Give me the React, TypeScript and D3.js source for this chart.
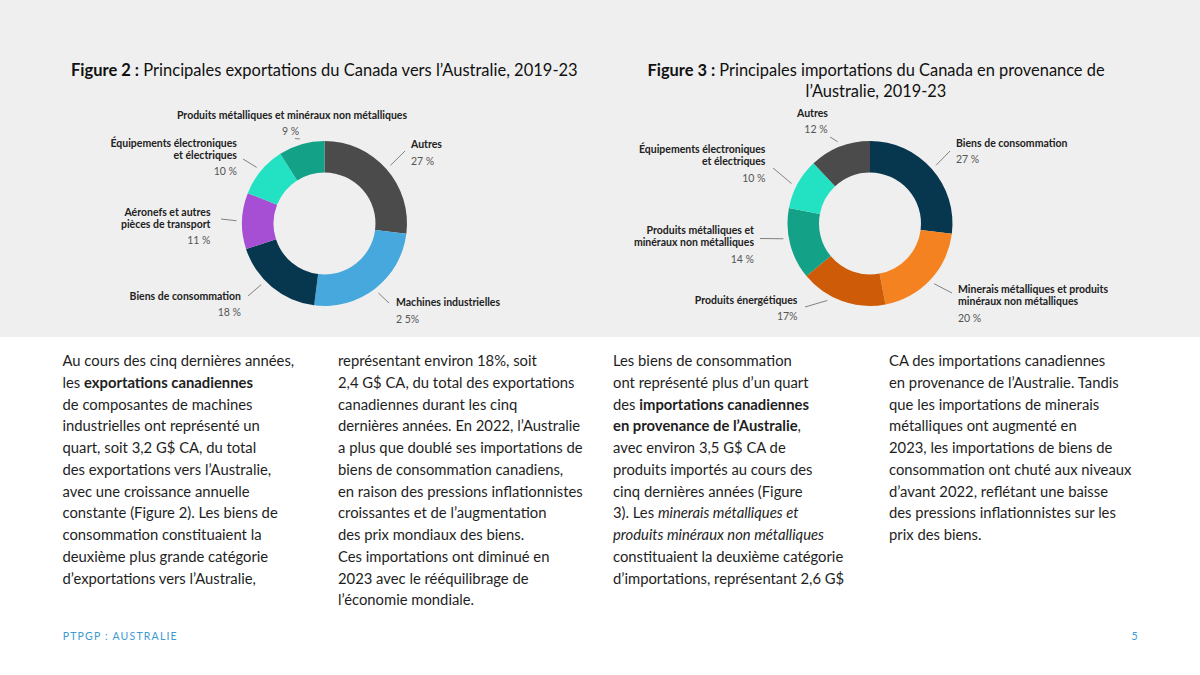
import React from "react";
import * as d3 from "d3";

// ---------- DATA ----------
const exportCategories = [
  "Autres",
  "Machines industrielles",
  "Biens de consommation",
  "Aéronefs et autres pièces de transport",
  "Équipements électroniques et électriques",
  "Produits métalliques et minéraux non métalliques",
];
const exportValues = [27, 25, 18, 11, 10, 9];
const exportPctLabels = ["27 %", "2 5%", "18 %", "11 %", "10 %", "9 %"];
const exportLabelLines = [
  ["Autres"],
  ["Machines industrielles"],
  ["Biens de consommation"],
  ["Aéronefs et autres", "pièces de transport"],
  ["Équipements électroniques", "et électriques"],
  ["Produits métalliques et minéraux non métalliques"],
];

const importCategories = [
  "Biens de consommation",
  "Minerais métalliques et produits minéraux non métalliques",
  "Produits énergétiques",
  "Produits métalliques et minéraux non métalliques",
  "Équipements électroniques et électriques",
  "Autres",
];
const importValues = [27, 20, 17, 14, 10, 12];
const importPctLabels = ["27 %", "20 %", "17%", "14 %", "10 %", "12 %"];
const importLabelLines = [
  ["Biens de consommation"],
  ["Minerais métalliques et produits", "minéraux non métalliques"],
  ["Produits énergétiques"],
  ["Produits métalliques et", "minéraux non métalliques"],
  ["Équipements électroniques", "et électriques"],
  ["Autres"],
];

const exportTitle = ["**Figure 2 :** Principales exportations du Canada vers l’Australie, 2019-23"];
const importTitle = [
  "**Figure 3 :** Principales importations du Canada en provenance de",
  "l’Australie, 2019-23",
];

const bodyCol1 = [
  "Au cours des cinq dernières années,",
  "les **exportations canadiennes**",
  "de composantes de machines",
  "industrielles ont représenté un",
  "quart, soit 3,2 G$ CA, du total",
  "des exportations vers l’Australie,",
  "avec une croissance annuelle",
  "constante (Figure 2). Les biens de",
  "consommation constituaient la",
  "deuxième plus grande catégorie",
  "d’exportations vers l’Australie,",
];
const bodyCol2 = [
  "représentant environ 18%, soit",
  "2,4 G$ CA, du total des exportations",
  "canadiennes durant les cinq",
  "dernières années. En 2022, l’Australie",
  "a plus que doublé ses importations de",
  "biens de consommation canadiens,",
  "en raison des pressions inflationnistes",
  "croissantes et de l’augmentation",
  "des prix mondiaux des biens.",
  "Ces importations ont diminué en",
  "2023 avec le rééquilibrage de",
  "l’économie mondiale.",
];
const bodyCol3 = [
  "Les biens de consommation",
  "ont représenté plus d’un quart",
  "des **importations canadiennes**",
  "**en provenance de l’Australie**,",
  "avec environ 3,5 G$ CA de",
  "produits importés au cours des",
  "cinq dernières années (Figure",
  "3). Les _minerais métalliques et_",
  "_produits minéraux non métalliques_",
  "constituaient la deuxième catégorie",
  "d’importations, représentant 2,6 G$",
];
const bodyCol4 = [
  "CA des importations canadiennes",
  "en provenance de l’Australie. Tandis",
  "que les importations de minerais",
  "métalliques ont augmenté en",
  "2023, les importations de biens de",
  "consommation ont chuté aux niveaux",
  "d’avant 2022, reflétant une baisse",
  "des pressions inflationnistes sur les",
  "prix des biens.",
];

const footerLeft = "PTPGP : AUSTRALIE";
const footerRight = "5";

// ---------- STYLE / LAYOUT ----------
const FONT = "Lato, 'Open Sans', sans-serif";
const exportColors = ["#4b4b4b", "#46a8dc", "#06374f", "#a64fd4", "#22e2c3", "#13a287"];
const importColors = ["#06374f", "#f58220", "#cd5b07", "#13a287", "#22e2c3", "#4b4b4b"];

type LabelLayout = {
  x: number;
  y: number;
  anchor: "start" | "end" | "middle";
  pctX?: number;
  pctGap: number;
  leaderEnd: [number, number];
  leaderAngle?: number;
};

const exportLayout: LabelLayout[] = [
  { x: 411, y: 148, anchor: "start", pctGap: 16.5, leaderEnd: [405, 151] },
  { x: 396, y: 306, anchor: "start", pctGap: 16.5, leaderEnd: [389, 303] },
  { x: 241, y: 299.5, anchor: "end", pctGap: 16.5, leaderEnd: [248, 296], leaderAngle: 226 },
  { x: 210.5, y: 215.5, anchor: "end", pctGap: 16, leaderEnd: [221, 219] },
  { x: 237, y: 146.5, anchor: "end", pctGap: 16, leaderEnd: [243, 159] },
  { x: 292, y: 119, anchor: "middle", pctX: 290.5, pctGap: 16, leaderEnd: [295, 138.5] },
];
const importLayout: LabelLayout[] = [
  { x: 956, y: 146.5, anchor: "start", pctGap: 16.5, leaderEnd: [950, 151] },
  { x: 958, y: 293, anchor: "start", pctGap: 16.5, leaderEnd: [952, 293] },
  { x: 797.5, y: 303.5, anchor: "end", pctGap: 16, leaderEnd: [805, 307], leaderAngle: 209 },
  { x: 754, y: 234, anchor: "end", pctGap: 16.5, leaderEnd: [760, 238.5], leaderAngle: 260 },
  { x: 765.5, y: 153, anchor: "end", pctGap: 16.5, leaderEnd: [773, 168], leaderAngle: 297 },
  { x: 812.5, y: 116.5, anchor: "middle", pctX: 816, pctGap: 16.5, leaderEnd: [830, 137] },
];

const OUTER = 82.5;
const INNER = 51;

function RichLine({ text, x, y, size, weight, anchor, fill }: any) {
  // parse **bold** and _italic_
  const parts: { t: string; b: boolean; i: boolean }[] = [];
  const re = /(\*\*[^*]+\*\*|_[^_]+_)/g;
  let last = 0;
  let m: RegExpExecArray | null;
  while ((m = re.exec(text)) !== null) {
    if (m.index > last) parts.push({ t: text.slice(last, m.index), b: false, i: false });
    const s = m[0];
    if (s.startsWith("**")) parts.push({ t: s.slice(2, -2), b: true, i: false });
    else parts.push({ t: s.slice(1, -1), b: false, i: true });
    last = m.index + s.length;
  }
  if (last < text.length) parts.push({ t: text.slice(last), b: false, i: false });
  return (
    <text x={x} y={y} fontSize={size} fontFamily={FONT} textAnchor={anchor || "start"} fill={fill} style={{ whiteSpace: "pre" }}>
      {parts.map((p, k) => (
        <tspan key={k} fontWeight={p.b ? 700 : weight || 400} fontStyle={p.i ? "italic" : "normal"}>
          {p.t}
        </tspan>
      ))}
    </text>
  );
}

function Donut({ cx, cy, values, colors, labelLines, pctLabels, layout }: any) {
  const pie = d3.pie<number>().sort(null).value((d) => d).startAngle(0).endAngle(2 * Math.PI);
  const arcs = pie(values);
  const arcGen = d3.arc<d3.PieArcDatum<number>>().innerRadius(INNER).outerRadius(OUTER);
  const pt = (angleRad: number, r: number): [number, number] => [
    cx + r * Math.sin(angleRad),
    cy - r * Math.cos(angleRad),
  ];
  return (
    <g>
      <g transform={`translate(${cx},${cy})`}>
        {arcs.map((a, i) => (
          <path key={i} d={arcGen(a) || ""} fill={colors[i]} />
        ))}
      </g>
      {arcs.map((a, i) => {
        const L: LabelLayout = layout[i];
        const ang = L.leaderAngle !== undefined ? (L.leaderAngle * Math.PI) / 180 : (a.startAngle + a.endAngle) / 2;
        const [sx, sy] = pt(ang, 88);
        const lines: string[] = labelLines[i];
        const lastY = L.y + (lines.length - 1) * 12;
        return (
          <g key={"l" + i}>
            <line x1={sx} y1={sy} x2={L.leaderEnd[0]} y2={L.leaderEnd[1]} stroke="#666" strokeWidth={0.8} />
            {lines.map((ln, k) => (
              <text
                key={k}
                x={L.x}
                y={L.y + k * 12}
                fontSize={10.5}
                fontWeight={700}
                fontFamily={FONT}
                textAnchor={L.anchor}
                fill="#222"
              >
                {ln}
              </text>
            ))}
            <text
              x={L.pctX !== undefined ? L.pctX : L.x}
              y={lastY + L.pctGap}
              fontSize={10.5}
              fontFamily={FONT}
              textAnchor={L.anchor}
              fill="#555"
            >
              {pctLabels[i]}
            </text>
          </g>
        );
      })}
    </g>
  );
}

function Column({ lines, x, y0 }: { lines: string[]; x: number; y0: number }) {
  return (
    <g>
      {lines.map((ln, i) => (
        <RichLine key={i} text={ln} x={x} y={y0 + i * 21.75} size={14.8} fill="#1e1e1e" />
      ))}
    </g>
  );
}

export default function App() {
  return (
    <div style={{ position: "absolute", left: 0, top: 0, width: 1200, height: 675, background: "#fff" }}>
      <svg width={1200} height={675} viewBox="0 0 1200 675" style={{ display: "block" }}>
        <rect x={0} y={0} width={1200} height={675} fill="#ffffff" />
        <rect x={0} y={0} width={1200} height={337} fill="#efefef" />

        {exportTitle.map((t, i) => (
          <RichLine key={i} text={t} x={71} y={75.5 + i * 21} size={16.5} fill="#111" />
        ))}
        {importTitle.map((t, i) => (
          <RichLine key={i} text={t} x={876} y={75.5 + i * 21} size={16.4} anchor="middle" fill="#111" />
        ))}

        <Donut
          cx={324.5}
          cy={223.5}
          values={exportValues}
          colors={exportColors}
          labelLines={exportLabelLines}
          pctLabels={exportPctLabels}
          layout={exportLayout}
        />
        <Donut
          cx={870}
          cy={223.5}
          values={importValues}
          colors={importColors}
          labelLines={importLabelLines}
          pctLabels={importPctLabels}
          layout={importLayout}
        />

        <Column lines={bodyCol1} x={62.5} y0={366} />
        <Column lines={bodyCol2} x={338} y0={366} />
        <Column lines={bodyCol3} x={613} y0={366} />
        <Column lines={bodyCol4} x={889} y0={366} />

        <text x={62.7} y={639.5} fontSize={10.5} fontFamily={FONT} fill="#3d9ad1" letterSpacing={1.2}>
          {footerLeft}
        </text>
        <text x={1131.5} y={639.5} fontSize={10.5} fontFamily={FONT} fill="#3d9ad1">
          {footerRight}
        </text>
      </svg>
    </div>
  );
}
